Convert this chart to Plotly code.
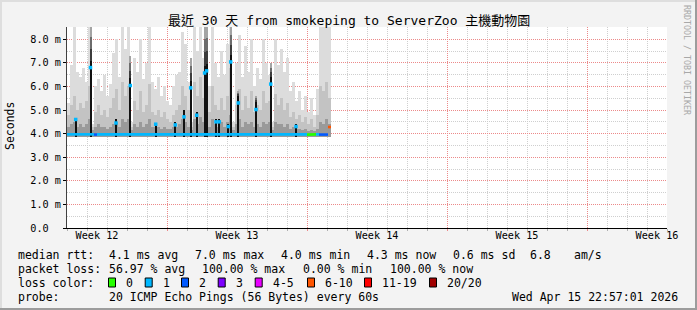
import plotly.graph_objects as go

# ---------------- data ----------------
BIN_DAYS = 0.15          # one smoke column = 3.6 h
DAY0_OFFSET = 0.0        # first column starts at the left edge of the graph

# outer smoke band top (slowest ping), ms
smoke_top = [5.3, 6.9, 8.6, 6.6, 6.4, 6.8, 6.2, 8.6, 4.4, 6.0,
             6.3, 5.8, 6.5, 5.6, 6.1, 7.4, 8.0, 6.4, 8.6, 7.6,
             8.6, 4.5, 7.2, 6.6, 8.0, 6.3, 7.0, 8.6, 6.2, 5.9,
             6.4, 5.6, 6.0, 5.4, 5.2, 6.0, 6.5, 6.6, 8.3, 7.8,
             6.2, 4.5, 8.6, 7.5, 8.6, 7.2, 8.6, 6.0, 8.6, 7.0,
             6.4, 7.5, 6.5, 7.8, 8.6, 4.5, 7.0, 8.2, 6.4, 7.7,
             6.6, 8.0, 6.0, 6.8, 6.3, 8.0, 7.0, 6.5, 4.5, 8.0,
             6.9, 7.6, 6.6, 7.2, 5.8, 6.2, 5.4, 5.8, 5.0, 5.6,
             4.9, 5.5, 4.8, 5.9, 8.6, 8.6, 8.6, 8.6]
# middle smoke band top, ms
smoke_mid = [4.8, 5.2, 5.6, 5.0, 5.3, 5.1, 5.4, 6.0, 4.3, 4.9,
             5.2, 4.8, 5.0, 4.7, 5.1, 5.5, 5.9, 5.0, 6.2, 5.6,
             6.0, 4.3, 5.4, 5.0, 5.8, 4.9, 5.2, 6.1, 4.9, 4.8,
             5.0, 4.7, 4.9, 4.6, 4.5, 4.8, 5.0, 5.2, 6.0, 5.6,
             5.0, 4.3, 6.2, 5.6, 6.4, 5.5, 7.0, 4.9, 6.0, 5.2,
             5.0, 5.5, 5.0, 5.6, 6.8, 4.3, 5.2, 5.9, 5.0, 5.6,
             5.1, 5.8, 4.9, 5.2, 5.0, 5.8, 5.3, 5.4, 4.3, 5.7,
             5.2, 5.5, 5.0, 5.3, 4.7, 4.9, 4.6, 4.8, 4.5, 4.7,
             4.4, 4.6, 4.3, 4.8, 6.0, 5.8, 6.2, 5.5]
# inner (dark) smoke band top, ms
smoke_low = [4.3, 4.4, 4.5, 4.3, 4.4, 4.3, 4.4, 4.6, 4.15, 4.3,
             4.4, 4.3, 4.3, 4.2, 4.3, 4.4, 4.5, 4.3, 4.6, 4.5,
             4.6, 4.15, 4.4, 4.3, 4.5, 4.3, 4.4, 4.6, 4.3, 4.3,
             4.3, 4.2, 4.3, 4.2, 4.2, 4.3, 4.3, 4.4, 4.6, 4.5,
             4.3, 4.15, 4.6, 4.4, 4.7, 4.5, 4.9, 4.3, 4.6, 4.4,
             4.3, 4.5, 4.3, 4.5, 4.8, 4.15, 4.4, 4.6, 4.3, 4.5,
             4.4, 4.5, 4.3, 4.4, 4.3, 4.5, 4.4, 4.5, 4.15, 4.5,
             4.4, 4.4, 4.3, 4.4, 4.2, 4.3, 4.2, 4.2, 4.15, 4.2,
             4.1, 4.15, 4.1, 4.2, 4.5, 4.4, 4.6, 4.4]
smoke_floor = 3.84       # fastest ping, ms

median_ms = [3.97, 3.96, 3.97, 3.98, 3.96, 3.97, 3.97, 3.98, 3.97, 3.96,
             3.97, 3.97, 3.96, 3.97, 3.97, 3.98, 3.97, 3.97, 3.97, 3.96,
             3.97, 3.98, 3.97, 3.97, 3.96, 3.97, 3.97, 3.98, 3.97, 3.97,
             3.97, 3.96, 3.97, 3.97, 3.97, 3.98, 3.97, 3.96, 3.97, 3.97,
             3.98, 3.97, 3.97, 3.96, 3.97, 3.98, 3.99, 3.97, 3.97, 3.96,
             3.97, 3.97, 3.98, 3.97, 3.97, 3.97, 3.96, 3.97, 3.98, 3.97,
             3.97, 3.97, 3.96, 3.97, 3.97, 3.98, 3.97, 3.97, 3.97, 3.96,
             3.97, 3.97, 3.98, 3.97, 3.97, 3.96, 3.97, 3.97, 3.97, 3.97,
             3.96, 3.96, 3.97, 3.97, 3.96, 3.96, 3.96, 4.28]
loss_cnt = [1, 1, 1, 1, 1, 1, 1, 1, 1, 2,
            1, 1, 1, 1, 1, 1, 1, 1, 1, 1,
            1, 1, 1, 1, 1, 1, 1, 1, 1, 1,
            1, 1, 1, 1, 1, 1, 1, 1, 1, 1,
            1, 1, 1, 1, 1, 1, 1, 1, 1, 1,
            1, 1, 1, 1, 1, 1, 1, 1, 1, 1,
            1, 1, 1, 1, 1, 1, 1, 1, 1, 1,
            1, 1, 1, 1, 1, 1, 1, 1, 1, 1,
            0, 0, 0, 1, 2, 2, 2, 7]

# short bursts of high latency (day position, median, top of dark smoke)
spike_day = [0.435, 1.175, 2.45, 3.165, 4.435, 5.415, 5.85, 6.185, 6.485,
             6.88, 6.98, 7.45, 7.615, 8.065, 8.185, 8.565, 9.45, 10.185, 11.45]
spike_median = [4.6, 6.8, 4.45, 6.04, 4.4, 4.37, 4.71, 5.94, 4.78,
                6.57, 6.66, 4.5, 4.5, 4.3, 7.04, 5.3, 5.02, 6.1, 4.3]
spike_top = [4.6, 8.6, 4.6, 7.3, 4.4, 4.5, 5.0, 7.2, 4.9,
             8.6, 8.6, 4.6, 4.6, 4.4, 8.6, 5.8, 5.6, 7.0, 4.4]

week_label_pos = [1.5, 8.5, 15.5, 22.5, 29.5]
week_labels = ["Week 12", "Week 13", "Week 14", "Week 15", "Week 16"]
week_start_pos = [5, 12, 19, 26]
y_tick_vals = [0, 1, 2, 3, 4, 5, 6, 7, 8]
y_tick_text = ["0.0", "1.0 m", "2.0 m", "3.0 m", "4.0 m", "5.0 m", "6.0 m", "7.0 m", "8.0 m"]
X_RANGE = [0, 30]
Y_RANGE = [0, 8.52]

loss_classes = [("0", 0, 0, "#26ff00"), ("1", 1, 1, "#00b8ff"), ("2", 2, 2, "#0059ff"),
                ("3", 3, 3, "#7e00ff"), ("4-5", 4, 5, "#e800ff"), ("6-10", 6, 10, "#ff5500"),
                ("11-19", 11, 19, "#ff0000"), ("20/20", 20, 20, "#a10000")]

title_text = "最近 30 天 from smokeping to ServerZoo 主機動物園"
rtt_stats = ["4.1 ms avg", "7.0 ms max", "4.0 ms min", "4.3 ms now", "0.6 ms sd", "6.8", "am/s"]
loss_stats = ["56.97 % avg", "100.00 % max", "0.00 % min", "100.00 % now"]
probe_text = "20 ICMP Echo Pings (56 Bytes) every 60s"
stamp_text = "Wed Apr 15 22:57:01 2026"

# ---------------- figure ----------------
W, H = 697, 310
L, R, T, B = 67, 667, 27, 228
MONO = "DejaVu Sans Mono, Noto Sans CJK TC, monospace"
RED_GRID = "#ec8a8a"
GRAY_GRID = "#cfcfcf"


def pxx(x):
    return (x - L) / (R - L)


def pxy(y):
    return (B - y) / (B - T)


n = len(smoke_top)
t = [DAY0_OFFSET + BIN_DAYS * (i + 0.5) for i in range(n)]
fig = go.Figure()


def band(top, color):
    return go.Bar(x=t, y=[v - smoke_floor for v in top], base=smoke_floor, width=BIN_DAYS,
                  marker=dict(color=color, line=dict(width=0)), hoverinfo="skip", showlegend=False)


fig.add_trace(band(smoke_top, "#dcdcdc"))
fig.add_trace(band(smoke_mid, "#c3c3c3"))
fig.add_trace(band(smoke_low, "#9a9a9a"))

# spikes: black core + fading dark smoke above
SPW = 0.1
blk_top = []
for m, tp in zip(spike_median, spike_top):
    blk_top.append(min(m + 0.3, tp) if tp > m else m)
fig.add_trace(go.Bar(x=spike_day, y=[b - smoke_floor for b in blk_top], base=smoke_floor, width=SPW,
                     marker=dict(color="#111111", line=dict(width=0)), hoverinfo="skip", showlegend=False))
fade_cols = ["#3c3c3c", "#6c6c6c", "#a4a4a4"]
for k, col in enumerate(fade_cols):
    xs, bs, hs = [], [], []
    for d, b, tp in zip(spike_day, blk_top, spike_top):
        if tp > b + 0.01:
            seg = (tp - b) / len(fade_cols)
            xs.append(d)
            bs.append(b + k * seg)
            hs.append(seg)
    fig.add_trace(go.Bar(x=xs, y=hs, base=bs, width=SPW, marker=dict(color=col, line=dict(width=0)),
                         hoverinfo="skip", showlegend=False))

# median line coloured by loss
for name, lo, hi, col in loss_classes:
    xs, ys = [], []
    prev = False
    for i in range(n):
        inside = lo <= loss_cnt[i] <= hi
        if inside:
            left = DAY0_OFFSET + BIN_DAYS * i
            xs.append(left)
            ys.append(median_ms[i])
            xs.append(left + BIN_DAYS)
            ys.append(median_ms[i])
        elif prev:
            xs.append(None)
            ys.append(None)
        prev = inside
    if xs:
        fig.add_trace(go.Scatter(x=xs, y=ys, mode="lines", line=dict(color=col, width=2.6),
                                 hoverinfo="skip", showlegend=False, connectgaps=False))

fig.add_trace(go.Scatter(x=spike_day, y=spike_median, mode="markers",
                         marker=dict(symbol="square", size=3.5, color="#00b8ff", line=dict(width=0)),
                         hoverinfo="skip", showlegend=False))

# axis arrows
fig.add_trace(go.Scatter(x=[X_RANGE[1] + 0.15], y=[Y_RANGE[0]], mode="markers", cliponaxis=False,
                         marker=dict(symbol="triangle-right", size=7, color="#a00000"),
                         hoverinfo="skip", showlegend=False))
fig.add_trace(go.Scatter(x=[X_RANGE[0]], y=[Y_RANGE[1] + 0.12], mode="markers", cliponaxis=False,
                         marker=dict(symbol="triangle-up", size=7, color="#a00000"),
                         hoverinfo="skip", showlegend=False))
# carrier for the label axis
fig.add_trace(go.Scatter(x=week_label_pos, y=[None] * len(week_label_pos), xaxis="x2",
                         mode="markers", hoverinfo="skip", showlegend=False))

annotations = []


def txt(x, y, s, size=11.5, anchor="left", color="#000000", angle=0):
    annotations.append(dict(x=pxx(x), y=pxy(y), xref="paper", yref="paper", text=s, showarrow=False,
                            xanchor=anchor, yanchor="middle", textangle=angle,
                            font=dict(family=MONO, size=size, color=color)))


txt(348.5, 20, title_text, size=13, anchor="center")
txt(10, 126, "Seconds", size=11.5, anchor="center", angle=-90)
txt(687, 60, "RRDTOOL / TOBI OETIKER", size=8.3, anchor="center", color="#a8a8a8", angle=90)

y1, y2, y3, y4 = 254.5, 268.5, 282.5, 296.5
txt(16, y1, "median rtt:")
for s, x in zip(rtt_stats, [107.3, 193.3, 279, 365, 450.5, 528, 572]):
    txt(x, y1, s)
txt(16, y2, "packet loss:")
for s, x in zip(loss_stats, [107.3, 200, 300.7, 388.3]):
    txt(x, y2, s)
txt(16, y3, "loss color:")
label_x = [124, 160.7, 197, 233.7, 270.7, 323, 380, 445]
shapes = []
for (name, lo, hi, col), x in zip(loss_classes, label_x):
    txt(x, y3, name)
    bx = x - 15.5
    shapes.append(dict(type="rect", xref="paper", yref="paper", x0=pxx(bx), x1=pxx(bx + 7),
                       y0=pxy(y3 + 4.5), y1=pxy(y3 - 4.5), fillcolor=col,
                       line=dict(color="#000000", width=1)))
txt(16, y4, "probe:")
txt(107.3, y4, probe_text)
txt(680, y4, stamp_text, anchor="right")

# image border (3D shade)
for (x0, y0, x1, y1_, c) in [(0, 0, W, 2, "#dedede"), (0, 0, 2, H, "#dedede"),
                              (W - 2, 0, W, H, "#9c9c9c"), (0, H - 2, W, H, "#9c9c9c")]:
    shapes.append(dict(type="rect", xref="paper", yref="paper", x0=pxx(x0), x1=pxx(x1),
                       y0=pxy(y1_), y1=pxy(y0), fillcolor=c, line=dict(width=0), layer="above"))

fig.update_layout(
    width=W, height=H, autosize=False,
    margin=dict(l=L, r=W - R, t=T, b=H - B, pad=0),
    paper_bgcolor="#f3f3f3", plot_bgcolor="#ffffff",
    barmode="overlay", bargap=0, showlegend=False,
    annotations=annotations, shapes=shapes,
    xaxis=dict(range=X_RANGE, tickmode="array", tickvals=week_start_pos, showticklabels=False,
               showgrid=True, gridcolor=RED_GRID, griddash="1px,1px", gridwidth=1,
               ticks="outside", ticklen=2, tickcolor=RED_GRID,
               minor=dict(tickmode="linear", tick0=0, dtick=1, showgrid=True, gridcolor=GRAY_GRID,
                          griddash="1px,1px", ticks="outside", ticklen=2, tickcolor="#b0b0b0"),
               showline=True, linecolor="#000000", linewidth=1, zeroline=False, fixedrange=True),
    xaxis2=dict(range=X_RANGE, overlaying="x", anchor="y", side="bottom", tickmode="array",
                tickvals=week_label_pos, ticktext=week_labels, showgrid=False, ticks="",
                showline=False, zeroline=False, fixedrange=True,
                tickfont=dict(family=MONO, size=10.2, color="#000000")),
    yaxis=dict(range=Y_RANGE, tickmode="array", tickvals=y_tick_vals,
               ticktext=[s + "\u00a0" * (5 - len(s)) for s in y_tick_text],
               showgrid=True, gridcolor=RED_GRID, griddash="1px,1px", gridwidth=1,
               minor=dict(tickmode="linear", tick0=0, dtick=0.5, showgrid=True, gridcolor=GRAY_GRID,
                          griddash="1px,1px"),
               ticks="outside", ticklen=3, tickcolor="#000000",
               showline=True, linecolor="#404040", linewidth=1, zeroline=False, fixedrange=True,
               tickfont=dict(family=MONO, size=10.2, color="#000000")),
)

fig.write_html("out.html", include_plotlyjs=True, config={"displayModeBar": False, "staticPlot": True})
